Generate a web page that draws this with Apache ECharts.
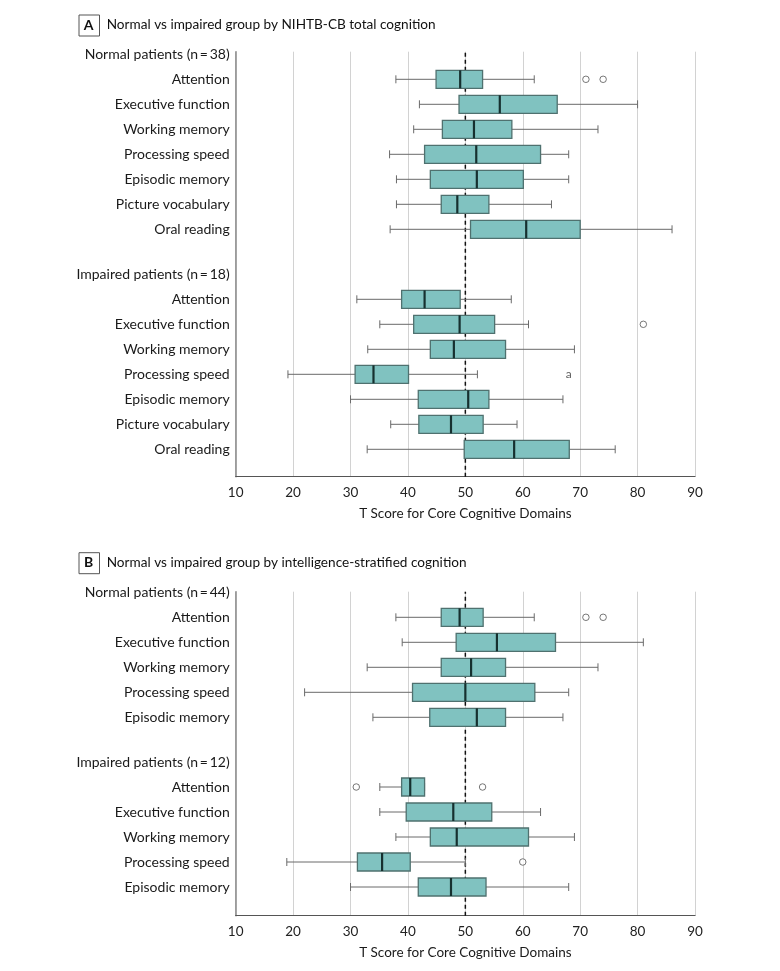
<!DOCTYPE html>
<html>
<head>
<meta charset="utf-8">
<script src="https://cdn.jsdelivr.net/npm/echarts@6/dist/echarts.min.js"></script>
<style>
  html, body { margin: 0; padding: 0; background: #fff; }
  #chart { width: 780px; height: 971px; }
</style>
</head>
<body>
<div id="chart"></div>
<script>
const xMin = 10, xMax = 90, xStep = 10;
const refValue = 50;

const domainsA = ['Attention', 'Executive function', 'Working memory', 'Processing speed', 'Episodic memory', 'Picture vocabulary', 'Oral reading'];
const domainsB = ['Attention', 'Executive function', 'Working memory', 'Processing speed', 'Episodic memory'];
const headsA = ['Normal patients (n\u2009=\u200938)', 'Impaired patients (n\u2009=\u200918)'];
const headsB = ['Normal patients (n\u2009=\u200944)', 'Impaired patients (n\u2009=\u200912)'];

// [low whisker, Q1, median, Q3, high whisker]
const aNormalBox = [
  [37.9, 44.9, 49.1, 53.0, 62.0],
  [42.0, 48.9, 56.0, 66.0, 80.0],
  [41.0, 46.0, 51.5, 58.1, 73.1],
  [36.8, 42.9, 51.9, 63.1, 68.0],
  [38.0, 43.9, 52.0, 60.1, 68.0],
  [38.0, 45.8, 48.6, 54.1, 65.0],
  [36.9, 50.9, 60.6, 70.0, 86.0]
];
const aImpairedBox = [
  [31.1, 38.9, 42.9, 49.1, 58.0],
  [35.1, 41.0, 49.0, 55.1, 61.0],
  [33.0, 43.9, 48.0, 57.0, 69.0],
  [19.1, 30.8, 34.0, 40.1, 52.1],
  [30.0, 41.8, 50.5, 54.1, 67.0],
  [37.0, 41.9, 47.5, 53.1, 59.0],
  [32.9, 49.8, 58.5, 68.1, 76.1]
];
const bNormalBox = [
  [37.9, 45.8, 49.0, 53.1, 62.0],
  [39.0, 48.4, 55.5, 65.7, 81.0],
  [32.9, 45.8, 51.0, 57.0, 73.1],
  [22.0, 40.8, 50.0, 62.1, 68.0],
  [33.9, 43.8, 52.0, 57.0, 67.0]
];
const bImpairedBox = [
  [35.1, 38.9, 40.4, 42.9, 42.9],
  [35.1, 39.7, 47.9, 54.6, 63.1],
  [37.9, 43.9, 48.5, 61.0, 69.0],
  [18.9, 31.2, 35.5, 40.4, 50.0],
  [30.0, 41.8, 47.5, 53.6, 68.0]
];

// outliers: [value, domain]
const aNormalOut = [[71, 'Attention'], [74, 'Attention']];
const aImpairedOut = [[81, 'Executive function']];
const bNormalOut = [[71, 'Attention'], [74, 'Attention']];
const bImpairedOut = [[31, 'Attention'], [53, 'Attention'], [60, 'Processing speed']];
const aImpairedNotes = [[68, 'Processing speed', 'a']];

const fontFamily = 'Lato, "Open Sans", sans-serif';
const boxFill = '#80c2c0';
const boxStroke = '#4f716f';
const medianColor = '#16302f';
const whiskerColor = '#6a6a6a';

function renderBox(params, api) {
  const row = api.value(0);
  const p = v => api.coord([v, row]);
  const lo = p(api.value(1)), q1 = p(api.value(2)), md = p(api.value(3)), q3 = p(api.value(4)), hi = p(api.value(5));
  const y = lo[1], h = 9, c = 4;
  const ws = { stroke: whiskerColor, lineWidth: 1 };
  return {
    type: 'group',
    children: [
      { type: 'line', shape: { x1: lo[0], y1: y, x2: q1[0], y2: y }, style: ws },
      { type: 'line', shape: { x1: q3[0], y1: y, x2: hi[0], y2: y }, style: ws },
      { type: 'line', shape: { x1: lo[0], y1: y - c, x2: lo[0], y2: y + c }, style: ws },
      { type: 'line', shape: { x1: hi[0], y1: y - c, x2: hi[0], y2: y + c }, style: ws },
      { type: 'rect', shape: { x: q1[0], y: y - h, width: q3[0] - q1[0], height: 2 * h },
        style: { fill: boxFill, stroke: boxStroke, lineWidth: 1.3 } },
      { type: 'line', shape: { x1: md[0], y1: y - h, x2: md[0], y2: y + h },
        style: { stroke: medianColor, lineWidth: 2.2 } }
    ]
  };
}

const L = 235.7, W = 459.3;
const grids = [
  { left: L, width: W, top: 51.7, height: 425 },   // A frame
  { left: L, width: W, top: 41.8, height: 200 },   // A normal
  { left: L, width: W, top: 261.8, height: 200 },  // A impaired
  { left: L, width: W, top: 591.7, height: 324 },  // B frame
  { left: L, width: W, top: 579.8, height: 150 },  // B normal
  { left: L, width: W, top: 749.5, height: 150 }   // B impaired
];

const xAxes = [], yAxes = [], series = [];
grids.forEach((g, i) => {
  const isFrame = i === 0 || i === 3;
  if (isFrame) {
    xAxes.push({
      gridIndex: i, type: 'value', min: xMin, max: xMax, interval: xStep,
      axisLine: { lineStyle: { color: '#555', width: 1.2 } },
      axisTick: { show: false },
      axisLabel: { fontFamily, fontSize: 13.5, color: '#222', margin: 9 },
      splitLine: { lineStyle: { color: '#d2d2d2', width: 1 } },
      name: 'T Score for Core Cognitive Domains', nameLocation: 'middle', nameGap: 30,
      nameTextStyle: { fontFamily, fontSize: 13.5, color: '#1a1a1a' }
    });
    yAxes.push({
      gridIndex: i, type: 'value', min: 0, max: 1,
      axisLine: { show: true, lineStyle: { color: '#888', width: 1.5 } },
      axisTick: { show: false }, axisLabel: { show: false }, splitLine: { show: false }
    });
    series.push({
      type: 'line', xAxisIndex: i, yAxisIndex: i, data: [[refValue, 0], [refValue, 1]],
      symbol: 'none', silent: true, z: 1,
      lineStyle: { color: '#111', width: 1.5, type: [4, 3] }
    });
  } else {
    const panelA = i < 3;
    const normal = i === 1 || i === 4;
    const heads = panelA ? headsA : headsB;
    const domains = panelA ? domainsA : domainsB;
    xAxes.push({ gridIndex: i, type: 'value', min: xMin, max: xMax, show: false });
    yAxes.push({
      gridIndex: i, type: 'category', inverse: true,
      data: [normal ? heads[0] : heads[1]].concat(domains),
      axisLine: { show: false }, axisTick: { show: false }, splitLine: { show: false },
      axisLabel: { interval: 0, fontFamily, fontSize: 14, color: '#1a1a1a', margin: 6 }
    });
  }
});

function addGroup(idx, box, outliers) {
  series.push({
    type: 'custom', xAxisIndex: idx, yAxisIndex: idx, z: 3,
    encode: { x: [1, 2, 3, 4, 5], y: 0 },
    data: box.map((v, k) => [k + 1].concat(v)),
    renderItem: renderBox
  });
  series.push({
    type: 'scatter', xAxisIndex: idx, yAxisIndex: idx, z: 4,
    data: outliers, symbol: 'circle', symbolSize: 6.5,
    itemStyle: { color: '#fff', borderColor: '#555', borderWidth: 1 }
  });
}
addGroup(1, aNormalBox, aNormalOut);
addGroup(2, aImpairedBox, aImpairedOut);
addGroup(4, bNormalBox, bNormalOut);
addGroup(5, bImpairedBox, bImpairedOut);
series.push({
  type: 'scatter', xAxisIndex: 2, yAxisIndex: 2, z: 4,
  data: aImpairedNotes, symbolSize: 0,
  label: { show: true, position: 'inside', formatter: p => p.data[2], fontFamily, fontSize: 12, color: '#333' }
});

function panelTitle(letter, text, y) {
  return [
    { type: 'rect', left: 78.5, top: y - 10.5, shape: { width: 20.5, height: 21 },
      style: { fill: '#fff', stroke: '#555', lineWidth: 1 } },
    { type: 'text', x: 88.7, y: y, style: { text: letter, fontFamily, fontWeight: 'bold', fontSize: 14,
      fill: '#111', align: 'center', verticalAlign: 'middle' } },
    { type: 'text', x: 106.7, y: y, style: { text: text, fontFamily, fontSize: 13.6,
      fill: '#111', align: 'left', verticalAlign: 'middle' } }
  ];
}

const chart = echarts.init(document.getElementById('chart'));
chart.setOption({
  animation: false,
  grid: grids,
  xAxis: xAxes,
  yAxis: yAxes,
  series: series,
  graphic: panelTitle('A', 'Normal vs impaired group by NIHTB-CB total cognition', 25)
    .concat(panelTitle('B', 'Normal vs impaired group by intelligence-stratified cognition', 562.7))
});
</script>
</body>
</html>
